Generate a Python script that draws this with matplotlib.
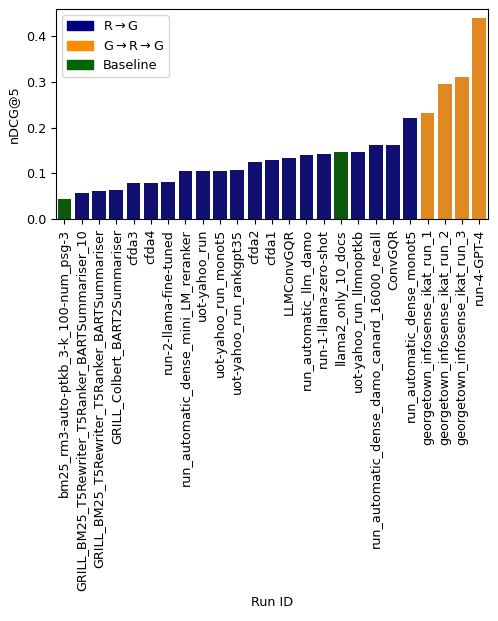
import pandas
import seaborn
import matplotlib
matplotlib.use('Agg')
import matplotlib.pyplot
from matplotlib.patches import Patch

run_ids = ['bm25_rm3-auto-ptkb_3-k_100-num_psg-3',
           'GRILL_BM25_T5Rewriter_T5Ranker_BARTSummariser_10',
           'GRILL_BM25_T5Rewriter_T5Ranker_BARTSummariser',
           'GRILL_Colbert_BART2Summariser',
           'cfda3', 'cfda4', 'run-2-llama-fine-tuned',
           'run_automatic_dense_mini_LM_reranker',
           'uot-yahoo_run', 'uot-yahoo_run_monot5', 'uot-yahoo_run_rankgpt35',
           'cfda2', 'cfda1', 'LLMConvGQR', 'run_automatic_llm_damo',
           'run-1-llama-zero-shot', 'llama2_only_10_docs',
           'uot-yahoo_run_llmnoptkb',
           'run_automatic_dense_damo_canard_16000_recall', 'ConvGQR',
           'run_automatic_dense_monot5',
           'georgetown_infosense_ikat_run_1', 'georgetown_infosense_ikat_run_2',
           'georgetown_infosense_ikat_run_3', 'run-4-GPT-4']
ndcg5 = [0.045, 0.058, 0.062, 0.064, 0.080, 0.080, 0.082, 0.105, 0.105, 0.106,
         0.107, 0.126, 0.130, 0.134, 0.141, 0.1435, 0.147, 0.147, 0.1626,
         0.1626, 0.221, 0.231, 0.296, 0.311, 0.440]
run_types = ['Baseline'] + ['RG'] * 15 + ['Baseline'] + ['RG'] * 4 + ['GRG'] * 4

type_names = ['RG', 'GRG', 'Baseline']
type_labels = [r'R$\rightarrow$G', r'G$\rightarrow$R$\rightarrow$G', 'Baseline']
type_colors = ['navy', 'darkorange', 'darkgreen']

matplotlib.pyplot.rcParams['font.size'] = 9.2

df = pandas.DataFrame({'Run ID': run_ids, 'nDCG@5': ndcg5, 'type': run_types})

fig = matplotlib.pyplot.figure(figsize=(4.98, 6.21), dpi=100)
ax = fig.add_axes([0.112, 0.647, 0.868, 0.339])
seaborn.barplot(data=df, x='Run ID', y='nDCG@5', hue='type', dodge=False,
                palette=dict(zip(type_names, type_colors)), hue_order=type_names,
                legend=False, ax=ax)
ax.tick_params(axis='x', rotation=90)
handles = [Patch(color=c) for c in type_colors]
ax.legend(handles, type_labels, loc='upper left')
ax.set_ylim(0, 0.46)
fig.savefig('out.png')
matplotlib.pyplot.close()
